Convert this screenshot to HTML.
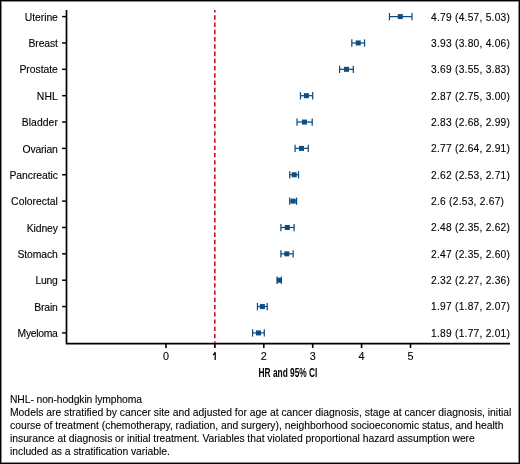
<!DOCTYPE html>
<html><head><meta charset="utf-8"><style>
html,body{margin:0;padding:0;background:#fff;}
body{width:520px;height:464px;overflow:hidden;position:relative;}
svg{position:absolute;left:0;top:0;will-change:transform;}
text{font-family:"Liberation Sans",sans-serif;fill:#000;stroke:#000;stroke-width:0.12px;}
.lb{font-size:10.4px;}
.vl{font-size:10.2px;letter-spacing:0.25px;}
.tk{font-size:10.8px;}
.ax{font-size:12.1px;font-weight:bold;stroke-width:0;}
.nt{font-size:10.35px;stroke-width:0.1px;}
</style></head><body>
<svg width="520" height="464" viewBox="0 0 520 464">
<path d="M66.5 10.1V343.6H510" fill="none" stroke="#000" stroke-width="1.7"/>
<line x1="214.8" y1="10" x2="214.8" y2="343" stroke="#c8102e" stroke-width="1.6" stroke-dasharray="4.4 2.84" stroke-dashoffset="1.9"/>
<line x1="166.00" y1="343.6" x2="166.00" y2="348" stroke="#000" stroke-width="1.6"/>
<text x="166.00" y="359.8" class="tk" text-anchor="middle">0</text>
<line x1="214.90" y1="343.6" x2="214.90" y2="348" stroke="#000" stroke-width="1.6"/>
<path d="M212.90 354.9 Q214.50 354.3 215.20 352.3 V359.9" stroke="#000" stroke-width="1.25" fill="none"/>
<line x1="263.80" y1="343.6" x2="263.80" y2="348" stroke="#000" stroke-width="1.6"/>
<text x="263.80" y="359.8" class="tk" text-anchor="middle">2</text>
<line x1="312.70" y1="343.6" x2="312.70" y2="348" stroke="#000" stroke-width="1.6"/>
<text x="312.70" y="359.8" class="tk" text-anchor="middle">3</text>
<line x1="361.60" y1="343.6" x2="361.60" y2="348" stroke="#000" stroke-width="1.6"/>
<text x="361.60" y="359.8" class="tk" text-anchor="middle">4</text>
<line x1="410.50" y1="343.6" x2="410.50" y2="348" stroke="#000" stroke-width="1.6"/>
<text x="410.50" y="359.8" class="tk" text-anchor="middle">5</text>
<line x1="62.1" y1="16.60" x2="66.5" y2="16.60" stroke="#000" stroke-width="1.5"/>
<text x="57.9" y="20.70" class="lb" text-anchor="end" textLength="33.20" lengthAdjust="spacing">Uterine</text>
<text x="431.1" y="20.50" class="vl">4.79 (4.57, 5.03)</text>
<g stroke="#0f4c81" stroke-width="1.25" fill="none"><line x1="389.47" y1="16.60" x2="411.97" y2="16.60"/><line x1="389.47" y1="13.00" x2="389.47" y2="20.30"/><line x1="411.97" y1="13.00" x2="411.97" y2="20.30"/></g>
<rect x="397.78" y="14.10" width="5" height="5" fill="#0f4c81"/>
<line x1="62.1" y1="42.96" x2="66.5" y2="42.96" stroke="#000" stroke-width="1.5"/>
<text x="57.9" y="47.06" class="lb" text-anchor="end" textLength="29.33" lengthAdjust="spacing">Breast</text>
<text x="431.1" y="46.86" class="vl">3.93 (3.80, 4.06)</text>
<g stroke="#0f4c81" stroke-width="1.25" fill="none"><line x1="351.82" y1="42.96" x2="364.53" y2="42.96"/><line x1="351.82" y1="39.36" x2="351.82" y2="46.66"/><line x1="364.53" y1="39.36" x2="364.53" y2="46.66"/></g>
<rect x="355.73" y="40.46" width="5" height="5" fill="#0f4c81"/>
<line x1="62.1" y1="69.32" x2="66.5" y2="69.32" stroke="#000" stroke-width="1.5"/>
<text x="57.9" y="73.42" class="lb" text-anchor="end" textLength="38.50" lengthAdjust="spacing">Prostate</text>
<text x="431.1" y="73.22" class="vl">3.69 (3.55, 3.83)</text>
<g stroke="#0f4c81" stroke-width="1.25" fill="none"><line x1="339.60" y1="69.32" x2="353.29" y2="69.32"/><line x1="339.60" y1="65.72" x2="339.60" y2="73.02"/><line x1="353.29" y1="65.72" x2="353.29" y2="73.02"/></g>
<rect x="343.99" y="66.82" width="5" height="5" fill="#0f4c81"/>
<line x1="62.1" y1="95.68" x2="66.5" y2="95.68" stroke="#000" stroke-width="1.5"/>
<text x="57.9" y="99.78" class="lb" text-anchor="end" textLength="21.10" lengthAdjust="spacing">NHL</text>
<text x="431.1" y="99.58" class="vl">2.87 (2.75, 3.00)</text>
<g stroke="#0f4c81" stroke-width="1.25" fill="none"><line x1="300.48" y1="95.68" x2="312.70" y2="95.68"/><line x1="300.48" y1="92.08" x2="300.48" y2="99.38"/><line x1="312.70" y1="92.08" x2="312.70" y2="99.38"/></g>
<rect x="303.89" y="93.18" width="5" height="5" fill="#0f4c81"/>
<line x1="62.1" y1="122.04" x2="66.5" y2="122.04" stroke="#000" stroke-width="1.5"/>
<text x="57.9" y="126.14" class="lb" text-anchor="end" textLength="36.13" lengthAdjust="spacing">Bladder</text>
<text x="431.1" y="125.94" class="vl">2.83 (2.68, 2.99)</text>
<g stroke="#0f4c81" stroke-width="1.25" fill="none"><line x1="297.05" y1="122.04" x2="312.21" y2="122.04"/><line x1="297.05" y1="118.44" x2="297.05" y2="125.74"/><line x1="312.21" y1="118.44" x2="312.21" y2="125.74"/></g>
<rect x="301.94" y="119.54" width="5" height="5" fill="#0f4c81"/>
<line x1="62.1" y1="148.40" x2="66.5" y2="148.40" stroke="#000" stroke-width="1.5"/>
<text x="57.9" y="152.50" class="lb" text-anchor="end" textLength="35.39" lengthAdjust="spacing">Ovarian</text>
<text x="431.1" y="152.30" class="vl">2.77 (2.64, 2.91)</text>
<g stroke="#0f4c81" stroke-width="1.25" fill="none"><line x1="295.10" y1="148.40" x2="308.30" y2="148.40"/><line x1="295.10" y1="144.80" x2="295.10" y2="152.10"/><line x1="308.30" y1="144.80" x2="308.30" y2="152.10"/></g>
<rect x="299.00" y="145.90" width="5" height="5" fill="#0f4c81"/>
<line x1="62.1" y1="174.76" x2="66.5" y2="174.76" stroke="#000" stroke-width="1.5"/>
<text x="57.9" y="178.86" class="lb" text-anchor="end" textLength="48.39" lengthAdjust="spacing">Pancreatic</text>
<text x="431.1" y="178.66" class="vl">2.62 (2.53, 2.71)</text>
<g stroke="#0f4c81" stroke-width="1.25" fill="none"><line x1="289.72" y1="174.76" x2="298.52" y2="174.76"/><line x1="289.72" y1="171.16" x2="289.72" y2="178.46"/><line x1="298.52" y1="171.16" x2="298.52" y2="178.46"/></g>
<rect x="291.67" y="172.26" width="5" height="5" fill="#0f4c81"/>
<line x1="62.1" y1="201.12" x2="66.5" y2="201.12" stroke="#000" stroke-width="1.5"/>
<text x="57.9" y="205.22" class="lb" text-anchor="end" textLength="46.78" lengthAdjust="spacing">Colorectal</text>
<text x="431.1" y="205.02" class="vl">2.6 (2.53, 2.67)</text>
<g stroke="#0f4c81" stroke-width="1.25" fill="none"><line x1="289.72" y1="201.12" x2="296.56" y2="201.12"/><line x1="289.72" y1="197.52" x2="289.72" y2="204.82"/><line x1="296.56" y1="197.52" x2="296.56" y2="204.82"/></g>
<rect x="290.69" y="198.62" width="5" height="5" fill="#0f4c81"/>
<line x1="62.1" y1="227.48" x2="66.5" y2="227.48" stroke="#000" stroke-width="1.5"/>
<text x="57.9" y="231.58" class="lb" text-anchor="end" textLength="31.18" lengthAdjust="spacing">Kidney</text>
<text x="431.1" y="231.38" class="vl">2.48 (2.35, 2.62)</text>
<g stroke="#0f4c81" stroke-width="1.25" fill="none"><line x1="280.92" y1="227.48" x2="294.12" y2="227.48"/><line x1="280.92" y1="223.88" x2="280.92" y2="231.18"/><line x1="294.12" y1="223.88" x2="294.12" y2="231.18"/></g>
<rect x="284.82" y="224.98" width="5" height="5" fill="#0f4c81"/>
<line x1="62.1" y1="253.84" x2="66.5" y2="253.84" stroke="#000" stroke-width="1.5"/>
<text x="57.9" y="257.94" class="lb" text-anchor="end" textLength="40.52" lengthAdjust="spacing">Stomach</text>
<text x="431.1" y="257.74" class="vl">2.47 (2.35, 2.60)</text>
<g stroke="#0f4c81" stroke-width="1.25" fill="none"><line x1="280.92" y1="253.84" x2="293.14" y2="253.84"/><line x1="280.92" y1="250.24" x2="280.92" y2="257.54"/><line x1="293.14" y1="250.24" x2="293.14" y2="257.54"/></g>
<rect x="284.33" y="251.34" width="5" height="5" fill="#0f4c81"/>
<line x1="62.1" y1="280.20" x2="66.5" y2="280.20" stroke="#000" stroke-width="1.5"/>
<text x="57.9" y="284.30" class="lb" text-anchor="end" textLength="22.52" lengthAdjust="spacing">Lung</text>
<text x="431.1" y="284.10" class="vl">2.32 (2.27, 2.36)</text>
<g stroke="#0f4c81" stroke-width="1.25" fill="none"><line x1="277.00" y1="280.20" x2="281.40" y2="280.20"/><line x1="277.00" y1="276.60" x2="277.00" y2="283.90"/><line x1="281.40" y1="276.60" x2="281.40" y2="283.90"/></g>
<rect x="277.00" y="277.70" width="5" height="5" fill="#0f4c81"/>
<line x1="62.1" y1="306.56" x2="66.5" y2="306.56" stroke="#000" stroke-width="1.5"/>
<text x="57.9" y="310.66" class="lb" text-anchor="end" textLength="23.77" lengthAdjust="spacing">Brain</text>
<text x="431.1" y="310.46" class="vl">1.97 (1.87, 2.07)</text>
<g stroke="#0f4c81" stroke-width="1.25" fill="none"><line x1="257.44" y1="306.56" x2="267.22" y2="306.56"/><line x1="257.44" y1="302.96" x2="257.44" y2="310.26"/><line x1="267.22" y1="302.96" x2="267.22" y2="310.26"/></g>
<rect x="259.88" y="304.06" width="5" height="5" fill="#0f4c81"/>
<line x1="62.1" y1="332.92" x2="66.5" y2="332.92" stroke="#000" stroke-width="1.5"/>
<text x="57.9" y="337.02" class="lb" text-anchor="end" textLength="40.36" lengthAdjust="spacing">Myeloma</text>
<text x="431.1" y="336.82" class="vl">1.89 (1.77, 2.01)</text>
<g stroke="#0f4c81" stroke-width="1.25" fill="none"><line x1="252.55" y1="332.92" x2="264.29" y2="332.92"/><line x1="252.55" y1="329.32" x2="252.55" y2="336.62"/><line x1="264.29" y1="329.32" x2="264.29" y2="336.62"/></g>
<rect x="255.97" y="330.42" width="5" height="5" fill="#0f4c81"/>
<text x="288" y="377.3" class="ax" text-anchor="middle" transform="translate(288 0) scale(0.69 1) translate(-288 0)">HR and 95% CI</text>
<text x="10" y="403.00" class="nt" textLength="132.0" lengthAdjust="spacing">NHL- non-hodgkin lymphoma</text>
<text x="10" y="416.00" class="nt" textLength="501.4" lengthAdjust="spacing">Models are stratified by cancer site and adjusted for age at cancer diagnosis, stage at cancer diagnosis, initial</text>
<text x="10" y="429.00" class="nt" textLength="493.4" lengthAdjust="spacing">course of treatment (chemotherapy, radiation, and surgery), neighborhood socioeconomic status, and health</text>
<text x="10" y="442.00" class="nt" textLength="464.8" lengthAdjust="spacing">insurance at diagnosis or initial treatment. Variables that violated proportional hazard assumption were</text>
<text x="10" y="455.00" class="nt" textLength="159.8" lengthAdjust="spacing">included as a stratification variable.</text>
</svg>
<div style="position:absolute;left:0;top:1px;width:520px;height:1px;background:#888"></div>
<div style="position:absolute;left:1px;top:0;width:1px;height:464px;background:#888"></div>
<div style="position:absolute;left:0;top:462px;width:520px;height:1px;background:#888"></div>
<div style="position:absolute;left:518px;top:0;width:1px;height:464px;background:#888"></div>
<div style="position:absolute;left:0;top:0;width:520px;height:1px;background:#000"></div>
<div style="position:absolute;left:0;top:0;width:1px;height:464px;background:#000"></div>
<div style="position:absolute;left:0;top:463px;width:520px;height:1px;background:#000"></div>
<div style="position:absolute;left:519px;top:0;width:1px;height:464px;background:#000"></div>
</body></html>
